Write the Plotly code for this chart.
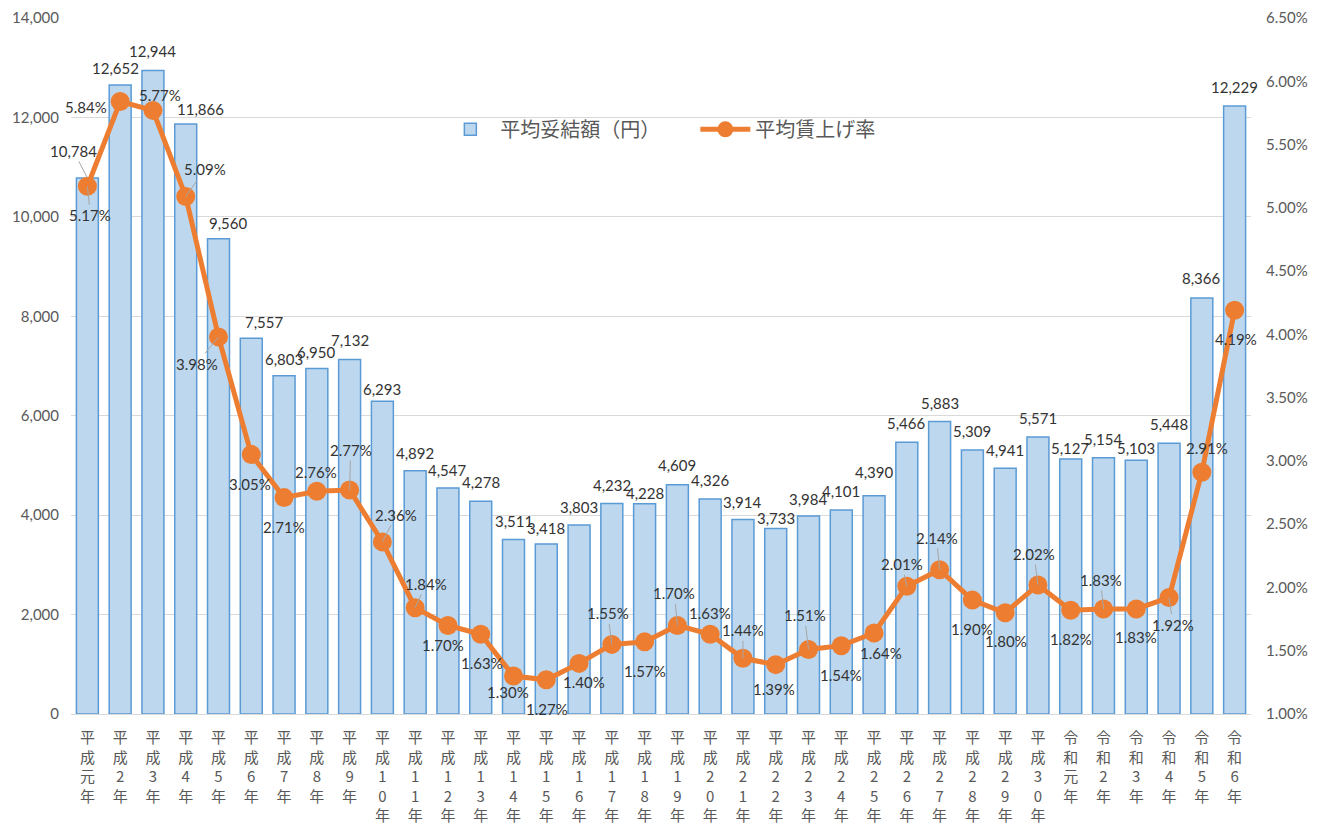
import plotly.graph_objects as go

years = ["平成元年", "平成2年", "平成3年", "平成4年", "平成5年", "平成6年", "平成7年", "平成8年", "平成9年",
         "平成10年", "平成11年", "平成12年", "平成13年", "平成14年", "平成15年", "平成16年", "平成17年",
         "平成18年", "平成19年", "平成20年", "平成21年", "平成22年", "平成23年", "平成24年", "平成25年",
         "平成26年", "平成27年", "平成28年", "平成29年", "平成30年",
         "令和元年", "令和2年", "令和3年", "令和4年", "令和5年", "令和6年"]

amount = [10784, 12652, 12944, 11866, 9560, 7557, 6803, 6950, 7132, 6293, 4892, 4547, 4278, 3511,
          3418, 3803, 4232, 4228, 4609, 4326, 3914, 3733, 3984, 4101, 4390, 5466, 5883, 5309, 4941,
          5571, 5127, 5154, 5103, 5448, 8366, 12229]

rate = [5.17, 5.84, 5.77, 5.09, 3.98, 3.05, 2.71, 2.76, 2.77, 2.36, 1.84, 1.70, 1.63, 1.30, 1.27,
        1.40, 1.55, 1.57, 1.70, 1.63, 1.44, 1.39, 1.51, 1.54, 1.64, 2.01, 2.14, 1.90, 1.80, 2.02,
        1.82, 1.83, 1.83, 1.92, 2.91, 4.19]

# ---- label placement styles (pixel offsets of label centre from its mark) ----
bar_dy = [-27, -17, -20, -15, -16, -16, -17, -16, -19, -12, -18, -18, -19, -18, -16, -18, -19, -11,
          -20, -19, -17, -10, -17, -19, -24, -19, -19, -19, -18, -19, -11, -19, -12, -19, -20, -19]
bar_dx = [-14, -5, 0, 15, 10, 13] + [0] * 30
bar_leader = {0}

rate_dx = [3, -34, 7, 19, -22, -1, 0, -1, 1, 14, 11, -5, 1, -6, 1, 5, -4, 0, -3, 0, 0, -2, -4, 0,
           7, -5, -3, 0, 1, -4, 0, -3, 0, 4, 5, 1]
rate_dy = [29, 5, -15, -27, 27, 29, 29, -19, -40, -27, -24, 20, 29, 16, 29, 19, -31, 29, -32, -21,
           -28, 24, -34, 29, 20, -22, -32, 29, 28, -31, 29, -29, 28, 27, -24, 29]
rate_leader = {0, 3, 4, 8, 9, 10, 16, 18, 20, 22, 25, 26, 29, 31, 33}

tick_text = ["<br>".join(list(y)) for y in years]

NUM_FONT = "Lato, Noto Sans CJK JP"
LABEL_COLOR = "#333333"

fig = go.Figure()
fig.add_trace(go.Bar(
    x=years, y=amount, name="平均妥結額（円）",
    marker=dict(color="#BDD7EE", line=dict(color="#5B9BD5", width=1.5)),
    yaxis="y",
))
fig.add_trace(go.Scatter(
    x=years, y=rate, name="平均賃上げ率", yaxis="y2",
    mode="lines+markers",
    line=dict(color="#ED7D31", width=5),
    marker=dict(color="#ED7D31", size=19),
    cliponaxis=False,
))

annotations = []
for i, (yr, v) in enumerate(zip(years, amount)):
    lead = i in bar_leader
    annotations.append(dict(
        x=yr, y=v, xref="x", yref="y", text=f"{v:,}",
        showarrow=lead, arrowhead=0, arrowwidth=1, arrowcolor="#A6A6A6",
        ax=bar_dx[i], ay=bar_dy[i],
        xshift=0 if lead else bar_dx[i], yshift=0 if lead else -bar_dy[i],
        font=dict(size=15, color=LABEL_COLOR, family=NUM_FONT),
    ))
for i, (yr, v) in enumerate(zip(years, rate)):
    lead = i in rate_leader
    annotations.append(dict(
        x=yr, y=v, xref="x", yref="y2", text=f"{v:.2f}%",
        showarrow=lead, arrowhead=0, arrowwidth=1, arrowcolor="#A6A6A6",
        ax=rate_dx[i], ay=rate_dy[i],
        xshift=0 if lead else rate_dx[i], yshift=0 if lead else -rate_dy[i],
        font=dict(size=15, color=LABEL_COLOR, family=NUM_FONT),
    ))

fig.update_layout(
    width=1322, height=830,
    paper_bgcolor="white", plot_bgcolor="white",
    margin=dict(l=63, r=79, t=10, b=124, autoexpand=False),
    bargap=0.33,
    font=dict(family=NUM_FONT, color="#595959"),
    xaxis=dict(tickmode="array", tickvals=years, ticktext=tick_text, tickangle=0,
               range=[-0.5, 35.5], automargin=False, ticklabelstandoff=10,
               tickfont=dict(size=15, color="#595959", family="Noto Sans CJK JP"),
               showline=True, linecolor="#D9D9D9", linewidth=1, ticks=""),
    yaxis=dict(range=[0, 14000], dtick=2000, tickformat=",", showgrid=True, automargin=False,
               gridcolor="#D9D9D9", gridwidth=1, zeroline=False, ticklabelstandoff=11,
               tickfont=dict(size=15, color="#595959")),
    yaxis2=dict(range=[1.0, 6.5], dtick=0.5, tickformat=".2f", ticksuffix="%", automargin=False,
                overlaying="y", side="right", showgrid=False, zeroline=False,
                ticklabelstandoff=14,
                tickfont=dict(size=15, color="#595959")),
    legend=dict(orientation="h", x=0.313, xanchor="left", y=0.84, yanchor="middle",
                font=dict(size=20, color="#595959", family="Noto Sans CJK JP"),
                bgcolor="rgba(0,0,0,0)", itemwidth=50,
                entrywidth=190, entrywidthmode="pixels"),
    annotations=annotations,
    showlegend=True,
)

fig.write_html("out.html")
